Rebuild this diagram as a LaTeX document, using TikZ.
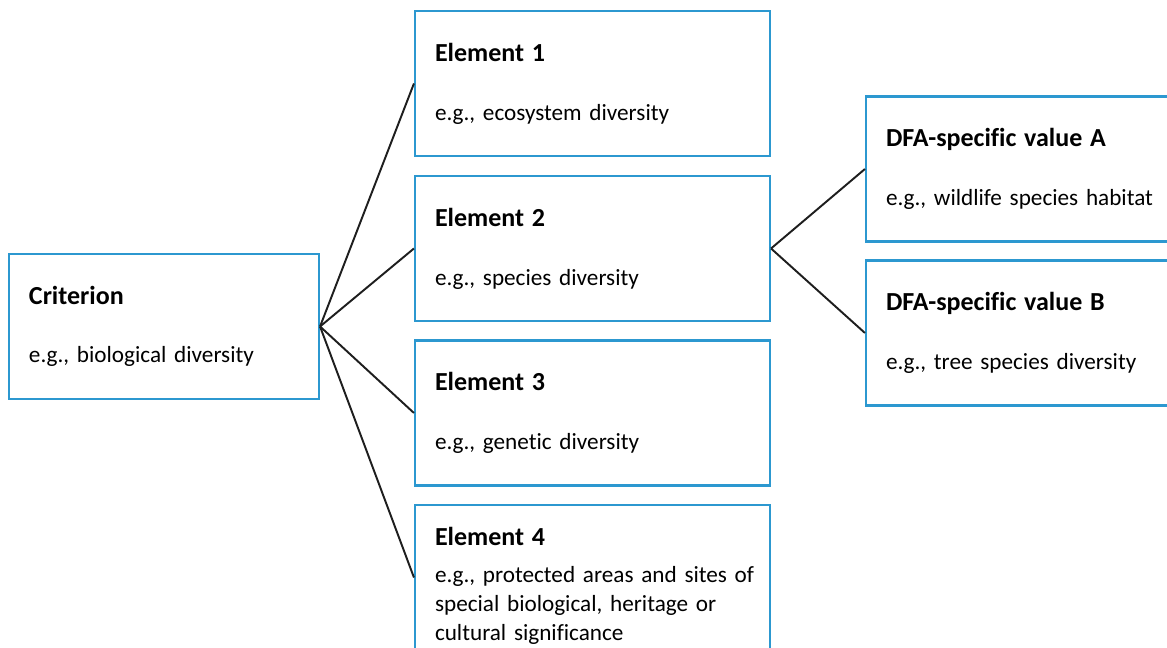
\documentclass[tikz,border=0pt]{standalone}
\usepackage{fontspec}
\setmainfont[Ligatures=NoCommon, RawFeature={-liga}]{Carlito}
\definecolor{boxblue}{HTML}{2C98D0}
\definecolor{linegray}{HTML}{1E1E1E}
\newcommand{\boxtitle}[1]{{\fontsize{14.8}{16.2}\selectfont\textbf{#1}}}
\begin{document}
\begin{tikzpicture}[
  box/.style={draw=boxblue, line width=1.2pt, rectangle, align=left,
    inner xsep=0.4cm, minimum height=2.9cm,
    font=\fontsize{13.2}{16.6}\selectfont},
  link/.style={draw=linegray, line width=1.1pt}]

\useasboundingbox (0,0) rectangle (23.34,12.96);

\node [box, minimum width=6.2cm, text width=5.4cm] (crit) at (3.28,6.43)
  {\boxtitle{Criterion}\\[16pt]e.g., biological diversity};

\node [box, minimum width=7.1cm, text width=6.3cm] (e1) at (11.85,11.29)
  {\boxtitle{Element 1}\\[17pt]e.g., ecosystem diversity};
\node [box, minimum width=7.1cm, text width=6.3cm] (e2) at (11.85,7.99)
  {\boxtitle{Element 2}\\[17pt]e.g., species diversity};
\node [box, minimum width=7.1cm, text width=6.3cm] (e3) at (11.85,4.70)
  {\boxtitle{Element 3}\\[17pt]e.g., genetic diversity};
% strut on the first line pushes the text down
\node [box, minimum width=7.1cm, text width=6.3cm] (e4) at (11.85,1.41)
  {\rule{0pt}{20pt}\boxtitle{Element 4}\\[4pt]\mbox{e.g., protected areas and sites of}\\
   special biological, heritage or\\cultural significance};

\node [box, minimum width=6.4cm, text width=5.6cm] (dfaA) at (20.52,9.58)
  {\boxtitle{DFA-specific value A}\\[17pt]e.g., wildlife species habitat};
\node [box, minimum width=6.4cm, text width=5.6cm] (dfaB) at (20.52,6.30)
  {\boxtitle{DFA-specific value B}\\[17pt]e.g., tree species diversity};

\foreach \e in {e1,e2,e3,e4}
  \draw [link] (crit.east) -- (\e.west);
\draw [link] (e2.east) -- (dfaA.west);
\draw [link] (e2.east) -- (dfaB.west);
\end{tikzpicture}
\end{document}
